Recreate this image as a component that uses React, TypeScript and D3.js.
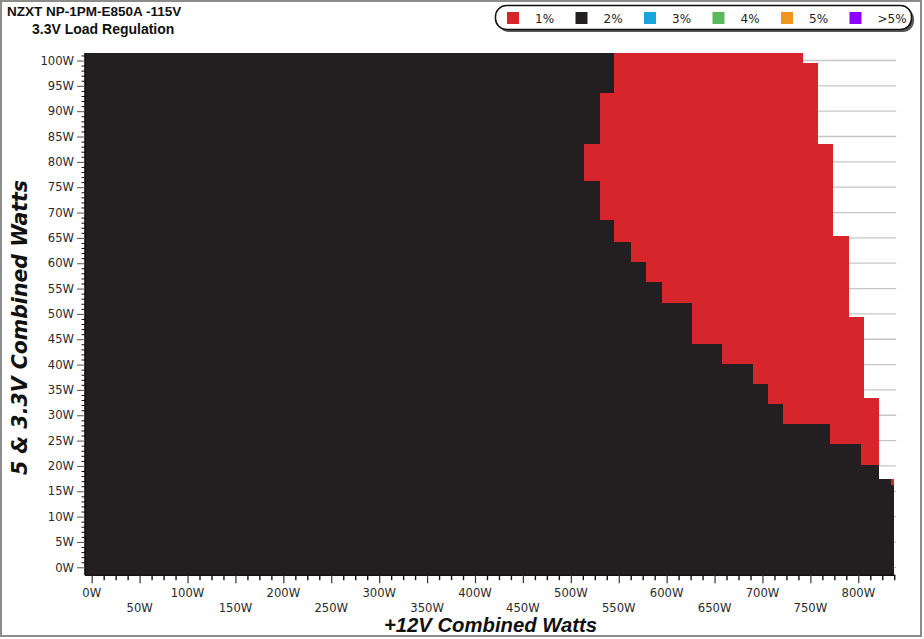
import { useEffect, useRef } from 'react';
import * as d3 from 'd3';

// Load map rows, top to bottom (5V & 3.3V combined watts at the top of each row)
const bandTopW = [
  101.5, 99.5, 93.5, 83.5, 76.4, 68.7, 65.4, 64.4, 60.5, 56.4, 52.4,
  49.3, 44.3, 40.4, 36.4, 33.4, 32.4, 28.4, 24.5, 20.4, 17.4, 16.4,
];
// +12V watts where the 2% zone ends (1% zone begins)
const bandBlackEndW = [
  545.4, 545.4, 530.5, 514.1, 530.5, 545.4, 545.4, 562.8, 578.5, 594.8, 626.1,
  626.1, 658.1, 689.8, 705.8, 705.8, 721.7, 770.5, 802.8, 821.9, 834.1, 837.2,
];
// +12V watts where the measured region ends
const bandRedEndW = [
  742.0, 758.3, 758.3, 773.9, 773.9, 773.9, 790.3, 790.3, 790.3, 790.3, 790.3,
  805.9, 805.9, 805.9, 805.9, 821.9, 821.9, 821.9, 821.9, 821.9, 837.2, 837.2,
];
const gridBottomW = -1.4;
const gridLeftW = -7;

const xTickValues = d3.range(0, 801, 50);
const xMinorValues = d3.range(0, 838, 12.5).filter(v => v % 50 !== 0);
const yTickValues = d3.range(0, 101, 5);
const yMinorValues = d3.range(0, 102, 1).filter(v => v % 5 !== 0);

const legendLabels = ['1%', '2%', '3%', '4%', '5%', '>5%'];
const legendColors = ['#d7262b', '#231f20', '#1ba3dc', '#5cb85c', '#f0961e', '#8f00ff'];

export default function App() {
  const svgRef = useRef<SVGSVGElement>(null);

  useEffect(() => {
    if (!svgRef.current) return;
    const svg = d3.select(svgRef.current);
    svg.selectAll('*').remove();

    const x = d3.scaleLinear().domain([0, 800]).range([91.7, 858.3]);
    const y = d3.scaleLinear().domain([0, 100]).range([567.3, 60.5]);

    const left = x(gridLeftW);
    const right = x(837.5);
    const bottom = y(gridBottomW);

    // background + frame
    svg.append('rect')
      .attr('x', 0).attr('y', 0).attr('width', 924).attr('height', 639)
      .attr('fill', '#fff');
    svg.append('rect')
      .attr('x', 1).attr('y', 1).attr('width', 920).attr('height', 635)
      .attr('fill', 'none').attr('stroke', '#8c8c8c').attr('stroke-width', 2);

    // horizontal grid lines
    svg.append('g')
      .selectAll('line')
      .data(yTickValues)
      .join('line')
      .attr('x1', left).attr('x2', right + 2)
      .attr('y1', d => y(d)).attr('y2', d => y(d))
      .attr('stroke', '#c6c6c6').attr('stroke-width', 1.3);

    const rows = bandTopW.map((top, i) => ({
      top,
      bottom: i + 1 < bandTopW.length ? bandTopW[i + 1] : gridBottomW,
      blackEnd: bandBlackEndW[i],
      redEnd: bandRedEndW[i],
    }));

    // 2% zone
    svg.append('g')
      .attr('shape-rendering', 'crispEdges')
      .selectAll('rect')
      .data(rows)
      .join('rect')
      .attr('x', left)
      .attr('y', d => y(d.top))
      .attr('width', d => x(d.blackEnd) - left)
      .attr('height', d => y(d.bottom) - y(d.top) + 1)
      .attr('fill', legendColors[1]);

    // 1% zone
    svg.append('g')
      .attr('shape-rendering', 'crispEdges')
      .selectAll('rect')
      .data(rows.filter(d => d.redEnd > d.blackEnd))
      .join('rect')
      .attr('x', d => x(d.blackEnd))
      .attr('y', d => y(d.top))
      .attr('width', d => x(d.redEnd) - x(d.blackEnd))
      .attr('height', d => y(d.bottom) - y(d.top) + 1)
      .attr('fill', legendColors[0]);

    // x axis
    const xAxisY = bottom + 0.8;
    svg.append('line')
      .attr('x1', left).attr('x2', right + 1)
      .attr('y1', xAxisY).attr('y2', xAxisY)
      .attr('stroke', '#111').attr('stroke-width', 1.6);
    svg.append('g')
      .attr('transform', `translate(0,${xAxisY})`)
      .call(d3.axisBottom(x).tickValues(xTickValues).tickSize(8).tickSizeOuter(0).tickFormat(() => ''))
      .call(g => g.select('.domain').remove())
      .selectAll('line').attr('stroke', '#333').attr('stroke-width', 1.2);
    svg.append('g')
      .attr('transform', `translate(0,${xAxisY})`)
      .call(d3.axisBottom(x).tickValues(xMinorValues).tickSize(5).tickSizeOuter(0).tickFormat(() => ''))
      .call(g => g.select('.domain').remove())
      .selectAll('line').attr('stroke', '#111').attr('stroke-width', 1.4);

    svg.append('g')
      .selectAll('text')
      .data(xTickValues)
      .join('text')
      .attr('x', d => x(d))
      .attr('y', (d, i) => (i % 2 === 0 ? 597 : 611.5))
      .attr('text-anchor', 'middle')
      .attr('font-family', 'DejaVu Sans, Verdana, sans-serif')
      .attr('font-size', 11.6)
      .attr('fill', '#2a2a2a')
      .text(d => `${d}W`);

    // y axis
    svg.append('line')
      .attr('x1', left).attr('x2', left)
      .attr('y1', y(bandTopW[0])).attr('y2', xAxisY)
      .attr('stroke', '#111').attr('stroke-width', 1.6);
    svg.append('g')
      .attr('transform', `translate(${left},0)`)
      .call(d3.axisLeft(y).tickValues(yTickValues).tickSize(8).tickSizeOuter(0).tickFormat(() => ''))
      .call(g => g.select('.domain').remove())
      .selectAll('line').attr('stroke', '#555').attr('stroke-width', 1);
    svg.append('g')
      .attr('transform', `translate(${left},0)`)
      .call(d3.axisLeft(y).tickValues(yMinorValues).tickSize(3.5).tickSizeOuter(0).tickFormat(() => ''))
      .call(g => g.select('.domain').remove())
      .selectAll('line').attr('stroke', '#111').attr('stroke-width', 1);

    svg.append('g')
      .selectAll('text')
      .data(yTickValues)
      .join('text')
      .attr('x', 74)
      .attr('y', d => y(d) + 4.2)
      .attr('text-anchor', 'end')
      .attr('font-family', 'DejaVu Sans, Verdana, sans-serif')
      .attr('font-size', 11.6)
      .attr('fill', '#2a2a2a')
      .text(d => `${d}W`);

    // axis titles
    svg.append('text')
      .attr('x', 490.5).attr('y', 631.5)
      .attr('text-anchor', 'middle')
      .attr('font-family', 'Liberation Sans, Arial, sans-serif')
      .attr('font-weight', 'bold').attr('font-style', 'italic')
      .attr('font-size', 20.3)
      .attr('fill', '#111')
      .text('+12V Combined Watts');

    svg.append('text')
      .attr('transform', `translate(27,${327.5}) rotate(-90)`)
      .attr('text-anchor', 'middle')
      .attr('font-family', 'DejaVu Sans, Verdana, sans-serif')
      .attr('font-weight', 'bold').attr('font-style', 'italic')
      .attr('font-size', 20.5)
      .attr('fill', '#111')
      .text('5 & 3.3V Combined Watts');

    // chart titles
    svg.append('text')
      .attr('x', 7).attr('y', 16)
      .attr('font-family', 'Liberation Sans, Arial, sans-serif')
      .attr('font-weight', 'bold').attr('font-size', 13.5)
      .attr('fill', '#111')
      .text('NZXT NP-1PM-E850A -115V');
    svg.append('text')
      .attr('x', 32).attr('y', 34)
      .attr('font-family', 'Liberation Sans, Arial, sans-serif')
      .attr('font-weight', 'bold').attr('font-size', 14)
      .attr('fill', '#111')
      .text('3.3V Load Regulation');

    // legend
    const legend = svg.append('g');
    legend.append('rect')
      .attr('x', 498).attr('y', 8).attr('width', 416).attr('height', 24).attr('rx', 11)
      .attr('fill', '#5a5a5a');
    legend.append('rect')
      .attr('x', 495.5).attr('y', 5.5).attr('width', 416).attr('height', 24).attr('rx', 11)
      .attr('fill', '#fff').attr('stroke', '#111').attr('stroke-width', 1.5);

    const items = legend.selectAll('g.item')
      .data(legendLabels)
      .join('g')
      .attr('class', 'item')
      .attr('transform', (d, i) => `translate(${507 + i * 68.5},0)`);
    items.append('rect')
      .attr('x', 0).attr('y', 12).attr('width', 12).attr('height', 12)
      .attr('fill', (d, i) => legendColors[i]);
    items.append('text')
      .attr('x', 28).attr('y', 22.5)
      .attr('font-family', 'DejaVu Sans, Verdana, sans-serif')
      .attr('font-size', 12)
      .attr('fill', '#222')
      .text(d => d);
  }, []);

  return (
    <>
      <style>{'body { margin: 0; }'}</style>
      <svg ref={svgRef} width={924} height={639} style={{ display: 'block' }} />
    </>
  );
}
